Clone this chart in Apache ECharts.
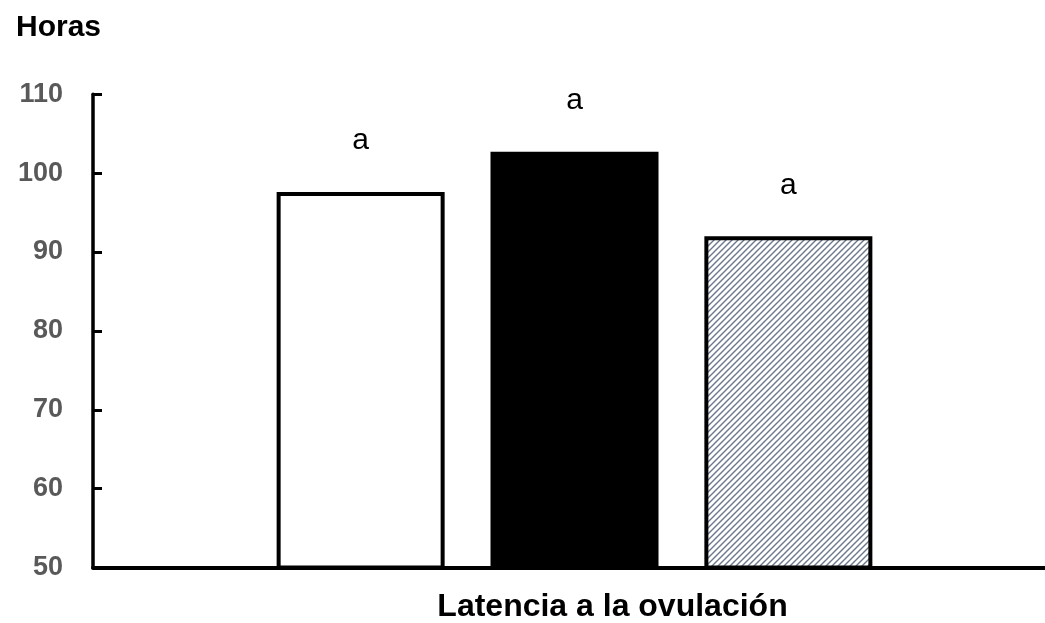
<!DOCTYPE html>
<html>
<head>
<meta charset="utf-8">
<script src="https://cdn.jsdelivr.net/npm/echarts@6/dist/echarts.min.js"></script>
<style>
  html, body { margin: 0; padding: 0; background: #ffffff; }
  #chart { width: 1045px; height: 623px; }
</style>
</head>
<body>
<div id="chart"></div>
<script>
// Latencia a la ovulación (horas) por grupo
const categorias = ['Latencia a la ovulación'];
const horas = [97.6, 102.7, 92.0];
const letras = ['a', 'a', 'a'];
const yMin = 50, yMax = 110, yStep = 10;

// Diagonal hatch tile for the third bar
function hatchTile() {
  const s = 6;
  const c = document.createElement('canvas');
  c.width = s; c.height = s;
  const g = c.getContext('2d');
  g.fillStyle = '#ffffff';
  g.fillRect(0, 0, s, s);
  g.strokeStyle = '#6b778a';
  g.lineWidth = 1.4;
  g.beginPath();
  g.moveTo(-1, s + 1); g.lineTo(s + 1, -1);
  g.moveTo(-1, 1); g.lineTo(1, -1);
  g.moveTo(s - 1, s + 1); g.lineTo(s + 1, s - 1);
  g.stroke();
  return c;
}

const fills = [
  { color: '#ffffff', borderColor: '#000000', borderWidth: 4 },
  { color: '#000000', borderColor: '#000000', borderWidth: 0 },
  { color: { image: hatchTile(), repeat: 'repeat' }, borderColor: '#000000', borderWidth: 4 }
];

const series = horas.map((v, i) => ({
  type: 'bar',
  data: [v],
  barWidth: 168,
  barGap: '27.3%',
  itemStyle: fills[i],
  label: {
    show: true,
    position: 'top',
    distance: 36,
    formatter: () => letras[i],
    color: '#000000',
    fontFamily: 'Liberation Sans, Arial, sans-serif',
    fontSize: 30,
    fontWeight: 'normal'
  },
  emphasis: { disabled: true },
  animation: false
}));

const chart = echarts.init(document.getElementById('chart'), null, { renderer: 'canvas' });
chart.setOption({
  animation: false,
  backgroundColor: '#ffffff',
  title: {
    text: 'Horas',
    left: 11,
    top: 8,
    textStyle: {
      fontFamily: 'Liberation Sans, Arial, sans-serif',
      fontSize: 30,
      fontWeight: 'bold',
      color: '#000000'
    }
  },
  grid: {
    left: 93, right: -11, top: 94.3, bottom: 55.5,
    containLabel: false,
    outerBoundsMode: 'none'
  },
  xAxis: {
    type: 'category',
    data: categorias,
    axisLine: { show: true, lineStyle: { color: '#000000', width: 4 } },
    axisTick: { show: false },
    axisLabel: { show: false },
    name: categorias[0],
    nameLocation: 'middle',
    nameGap: 24,
    nameTextStyle: {
      fontFamily: 'Liberation Sans, Arial, sans-serif',
      fontSize: 32,
      fontWeight: 'bold',
      color: '#000000',
      padding: [0, 0, 0, 76]
    }
  },
  yAxis: {
    type: 'value',
    min: yMin,
    max: yMax,
    interval: yStep,
    splitLine: { show: false },
    axisLine: { show: true, lineStyle: { color: '#000000', width: 3.5 } },
    axisTick: { show: true, inside: true, length: 9, lineStyle: { color: '#000000', width: 3 } },
    axisLabel: {
      margin: 30,
      fontFamily: 'Liberation Sans, Arial, sans-serif',
      fontSize: 27,
      fontWeight: 'bold',
      color: '#595959'
    }
  },
  series: series
});
</script>
</body>
</html>
